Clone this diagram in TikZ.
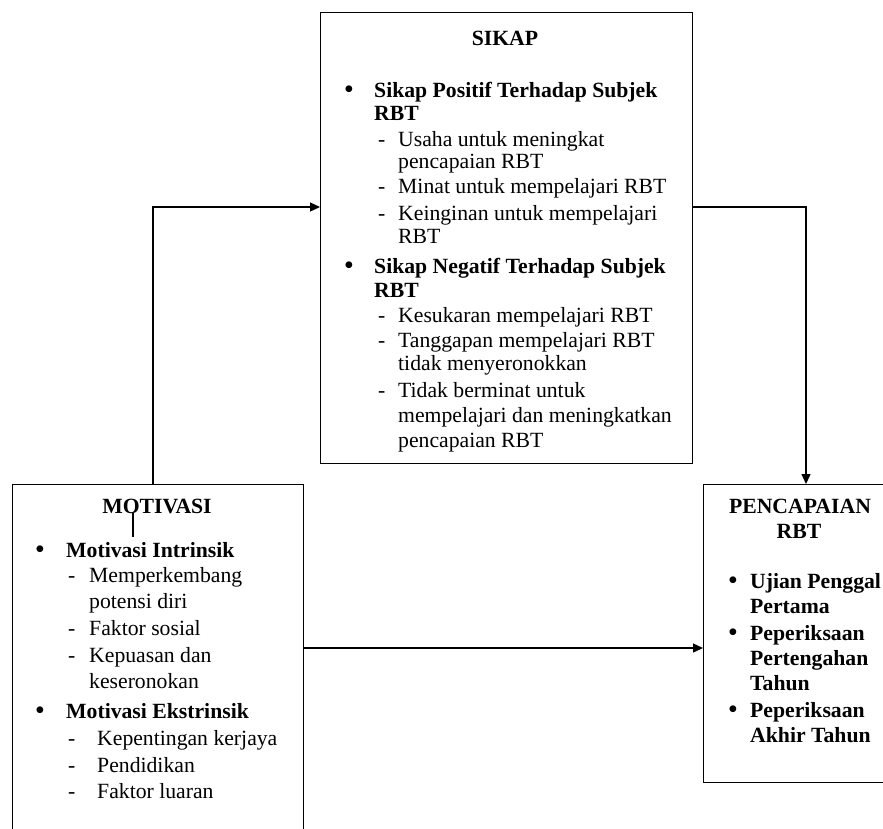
\documentclass[tikz,border=0pt]{standalone}
\usepackage{fontspec}
\setmainfont{Liberation Serif}
\usetikzlibrary{arrows.meta}
\begin{document}
\begin{tikzpicture}[x=1pt,y=-1pt,
  box/.style={draw, line width=1.3pt, rectangle, anchor=north west, inner sep=0pt},
  txt/.style={anchor=base west, inner sep=0pt, font=\fontsize{21.7}{26}\selectfont},
  btxt/.style={txt, font=\fontsize{21.7}{26}\selectfont\bfseries},
  bul/.style={anchor=base, inner sep=0pt, font=\fontsize{25}{26}\selectfont\bfseries},
  ttl/.style={anchor=base, inner sep=0pt, font=\fontsize{21.7}{26}\selectfont\bfseries},
  arr/.style={line width=1.3pt, -{Triangle[length=10pt,width=9pt]}},
  conn/.style={line width=1.3pt}]
\useasboundingbox (0,0) rectangle (883,828);
\clip (0,0) rectangle (883,828);
% boxes
\node[box, minimum width=372pt, minimum height=451pt] (sikap) at (320,12) {};
\node[box, minimum width=291pt, minimum height=400pt] (motivasi) at (12,484) {};
\node[box, minimum width=250pt, minimum height=298pt] (pencapaian) at (703,484) {};
% SIKAP text
\node[ttl] (st) at (505,45) {SIKAP};
\node[bul] (sb1) at (349,97) {•};
\node[btxt] (s1) at (374,97) {Sikap Positif Terhadap Subjek};
\node[btxt] (s2) at (374,120) {RBT};
\node[txt] (sd1) at (378,146) {-};
\node[txt] (s3) at (398,146) {Usaha untuk meningkat};
\node[txt] (s4) at (398,168) {pencapaian RBT};
\node[txt] (sd2) at (378,193) {-};
\node[txt] (s5) at (398,193) {Minat untuk mempelajari RBT};
\node[txt] (sd3) at (378,220) {-};
\node[txt] (s6) at (398,220) {Keinginan untuk mempelajari};
\node[txt] (s7) at (398,243) {RBT};
\node[bul] (sb2) at (349,273) {•};
\node[btxt] (s8) at (374,273) {Sikap Negatif Terhadap Subjek};
\node[btxt] (s9) at (374,297) {RBT};
\node[txt] (sd4) at (378,322) {-};
\node[txt] (s10) at (398,322) {Kesukaran mempelajari RBT};
\node[txt] (sd5) at (378,347) {-};
\node[txt] (s11) at (398,347) {Tanggapan mempelajari RBT};
\node[txt] (s12) at (398,370) {tidak menyeronokkan};
\node[txt] (sd6) at (378,397) {-};
\node[txt] (s13) at (398,397) {Tidak berminat untuk};
\node[txt] (s14) at (398,422) {mempelajari dan meningkatkan};
\node[txt] (s15) at (398,447) {pencapaian RBT};
% MOTIVASI text
\node[ttl] (mt) at (157,513) {MOTIVASI};
\node[bul] (mb1) at (40,557) {•};
\node[btxt] (m1) at (66,557) {Motivasi Intrinsik};
\node[txt] (md1) at (68,582) {-};
\node[txt] (m2) at (89,582) {Memperkembang};
\node[txt] (m3) at (89,608) {potensi diri};
\node[txt] (md2) at (68,635) {-};
\node[txt] (m4) at (89,635) {Faktor sosial};
\node[txt] (md3) at (68,662) {-};
\node[txt] (m5) at (89,662) {Kepuasan dan};
\node[txt] (m6) at (89,688) {keseronokan};
\node[bul] (mb2) at (40,718) {•};
\node[btxt] (m7) at (66,718) {Motivasi Ekstrinsik};
\node[txt] (md4) at (68,745) {-};
\node[txt] (m8) at (97,745) {Kepentingan kerjaya};
\node[txt] (md5) at (68,772) {-};
\node[txt] (m9) at (97,772) {Pendidikan};
\node[txt] (md6) at (68,798) {-};
\node[txt] (m10) at (97,798) {Faktor luaran};
% PENCAPAIAN text
\node[ttl] (pt1) at (800,513) {PENCAPAIAN};
\node[ttl] (pt2) at (799,538) {RBT};
\node[bul] (pb1) at (733,588) {•};
\node[btxt] (p1) at (750,588) {Ujian Penggal};
\node[btxt] (p2) at (750,613) {Pertama};
\node[bul] (pb2) at (733,640) {•};
\node[btxt] (p3) at (750,640) {Peperiksaan};
\node[btxt] (p4) at (750,665) {Pertengahan};
\node[btxt] (p5) at (750,690) {Tahun};
\node[bul] (pb3) at (733,717) {•};
\node[btxt] (p6) at (750,717) {Peperiksaan};
\node[btxt] (p7) at (750,742) {Akhir Tahun};
% connectors
\draw[arr] (motivasi.north -| 153,0) |- (sikap.west |- 0,207);
\draw[arr] (sikap.east |- 0,207) -| (pencapaian.north -| 806,0);
\draw[arr] (motivasi.east |- 0,648) -- (pencapaian.west |- 0,648);
\coordinate (stray1) at (133,513);
\coordinate (stray2) at (133,537);
\draw[conn] (stray1) -- (stray2);
\end{tikzpicture}
\end{document}
